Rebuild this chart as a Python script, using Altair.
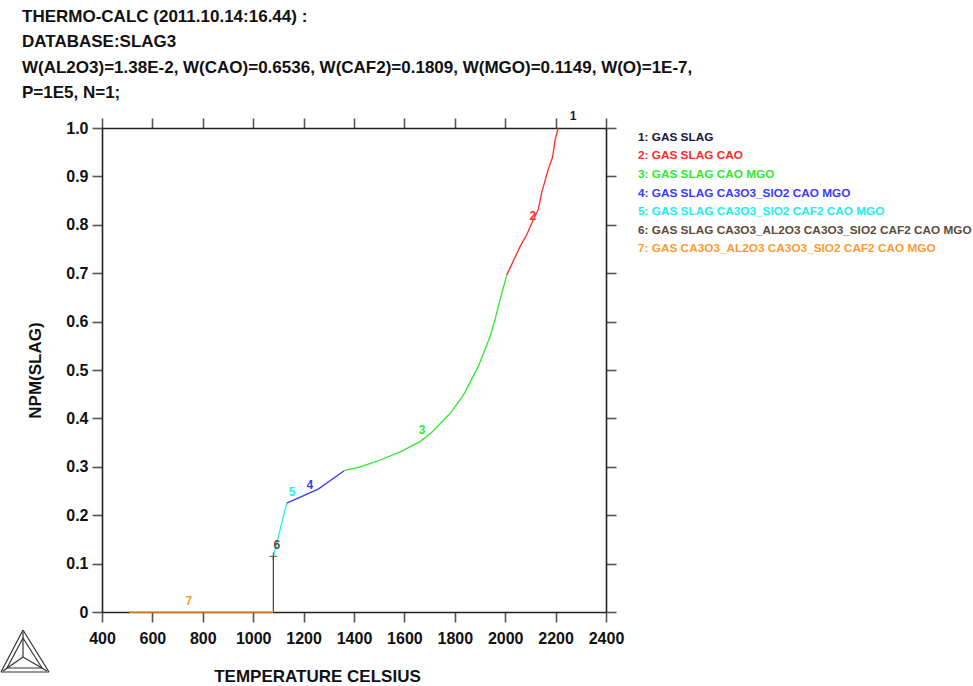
import altair as alt
import pandas as pd

# ---------------- data ----------------
title_lines = [
    "THERMO-CALC (2011.10.14:16.44) :",
    "DATABASE:SLAG3",
    "W(AL2O3)=1.38E-2, W(CAO)=0.6536, W(CAF2)=0.1809, W(MGO)=0.1149, W(O)=1E-7,",
    "P=1E5, N=1;",
]

series_ids = ["1", "2", "3", "4", "5", "6", "7"]
legend_labels = [
    "1: GAS SLAG",
    "2: GAS SLAG CAO",
    "3: GAS SLAG CAO MGO",
    "4: GAS SLAG CA3O3_SIO2 CAO MGO",
    "5: GAS SLAG CA3O3_SIO2 CAF2 CAO MGO",
    "6: GAS SLAG CA3O3_AL2O3 CA3O3_SIO2 CAF2 CAO MGO",
    "7: GAS CA3O3_AL2O3 CA3O3_SIO2 CAF2 CAO MGO",
]
series_colors = ["#16163e", "#ff2a2a", "#33e833", "#3a3aff", "#22eeee", "#5b4b3b", "#ff9a33"]

# curve segments (temperature in Celsius, NPM(SLAG))
s2_temp = [2006, 2059, 2085, 2111, 2131, 2144, 2171, 2188, 2198, 2210]
s2_npm = [0.696, 0.755, 0.779, 0.810, 0.831, 0.865, 0.915, 0.940, 0.975, 1.0]
s3_temp = [1361, 1424, 1490, 1583, 1662, 1708, 1781, 1834, 1893, 1940, 1960, 1977, 2006]
s3_npm = [0.292, 0.300, 0.311, 0.331, 0.352, 0.371, 0.410, 0.448, 0.507, 0.569, 0.605, 0.640, 0.696]
s4_temp = [1133, 1258, 1361]
s4_npm = [0.225, 0.254, 0.292]
s5_temp = [1080, 1133]
s5_npm = [0.115, 0.225]
s6_temp = [1080, 1080]
s6_npm = [0.0, 0.115]
s7_temp = [508, 1080]
s7_npm = [0.0, 0.0]

# curve number labels
label_temp = [2269, 2110, 1670, 1225, 1154, 1094, 745]
label_npm = [1.025, 0.818, 0.376, 0.262, 0.248, 0.138, 0.023]

# "+" marker at the end of segment 6
plus_temp = [1080]
plus_npm = [0.115]

x_ticks = list(range(400, 2401, 200))
y_ticks = [0, 0.1, 0.2, 0.3, 0.4, 0.5, 0.6, 0.7, 0.8, 0.9, 1.0]

# ---------------- tables ----------------
rows = []
for sid, tt, nn in [("2", s2_temp, s2_npm), ("3", s3_temp, s3_npm), ("4", s4_temp, s4_npm),
                    ("5", s5_temp, s5_npm), ("6", s6_temp, s6_npm), ("7", s7_temp, s7_npm)]:
    for i, (t, n) in enumerate(zip(tt, nn)):
        rows.append({"series": sid, "order": i, "T": t, "NPM": n})
curve = pd.DataFrame(rows)
labels = pd.DataFrame({"series": series_ids, "T": label_temp, "NPM": label_npm})
plus = pd.DataFrame({"T": plus_temp, "NPM": plus_npm})

W, H = 504, 484
FONT = "Liberation Sans, Arial, sans-serif"

xscale = alt.Scale(domain=[400, 2400], nice=False, zero=False)
yscale = alt.Scale(domain=[0, 1], nice=False, zero=False)
cscale = alt.Scale(domain=series_ids, range=series_colors)

axis_common = dict(
    grid=False, domainColor="#222222", domainWidth=1.6, tickColor="#555555",
    tickWidth=1.6, tickSize=10, labelFont=FONT, labelFontSize=16,
    labelFontWeight="bold", labelColor="#111111", titleFont=FONT,
    titleFontSize=17, titleFontWeight="bold", titleColor="#111111",
    labelOverlap=False, labelFlush=False,
)

lines = alt.Chart(curve).mark_line(strokeWidth=1.3, clip=False).encode(
    x=alt.X("T:Q", scale=xscale, axis=alt.Axis(
        orient="bottom", values=x_ticks, format="d", title="TEMPERATURE CELSIUS", labelPadding=8,
        titleX=215, titleY=64, titleAlign="center", titleBaseline="middle", **axis_common)),
    y=alt.Y("NPM:Q", scale=yscale, axis=alt.Axis(
        orient="left", values=y_ticks, title="NPM(SLAG)", labelPadding=4,
        labelExpr="datum.value == 0 ? '0' : format(datum.value, '.1f')",
        titleX=-67, titleY=242, titleAngle=270, titleAlign="center", titleBaseline="middle",
        **axis_common)),
    color=alt.Color("series:N", scale=cscale, legend=None),
    detail="series:N",
    order="order:Q",
)

frame = alt.Chart(curve).mark_line(opacity=0).encode(
    x=alt.X("T:Q", scale=xscale, axis=alt.Axis(orient="top", values=x_ticks, labels=False,
                                                 title=None, **axis_common)),
    y=alt.Y("NPM:Q", scale=yscale, axis=alt.Axis(orient="right", values=y_ticks, labels=False,
                                                   title=None, **axis_common)),
    detail="series:N",
)

num_labels = alt.Chart(labels).mark_text(
    font=FONT, fontSize=12, fontWeight="bold", align="center", baseline="middle", clip=False
).encode(
    x=alt.X("T:Q", scale=xscale, axis=None),
    y=alt.Y("NPM:Q", scale=yscale, axis=None),
    text="series:N",
    color=alt.Color("series:N", scale=cscale, legend=None),
)

plus_mark = alt.Chart(plus).mark_point(
    shape="M-1,0L1,0M0,-1L0,1", filled=False, size=60, stroke="#4a3c2e", strokeWidth=1.3
).encode(
    x=alt.X("T:Q", scale=xscale, axis=None),
    y=alt.Y("NPM:Q", scale=yscale, axis=None),
)

layers = [lines, frame, num_labels, plus_mark]

# title block (top-left)
for i, line in enumerate(title_lines):
    layers.append(
        alt.Chart(pd.DataFrame({"t": [line]})).mark_text(
            font=FONT, fontSize=17, fontWeight="bold", align="left", baseline="middle",
            color="#111111", clip=False
        ).encode(x=alt.value(-80), y=alt.value(-111 + 25.3 * i), text="t:N")
    )

# custom legend (right)
for i, (lab, col) in enumerate(zip(legend_labels, series_colors)):
    layers.append(
        alt.Chart(pd.DataFrame({"t": [lab]})).mark_text(
            font=FONT, fontSize=11.8, fontWeight="bold", align="left", baseline="middle",
            color=col, clip=False
        ).encode(x=alt.value(536), y=alt.value(8.7 + 18.6 * i), text="t:N")
    )

# Thermo-Calc logo (decoration, bottom-left)
logo_segments = [
    (-79, 502, -101, 544), (-79, 502, -53, 544), (-101, 544, -53, 544),
    (-79, 510, -95, 540), (-79, 510, -60, 540), (-95, 540, -60, 540),
    (-79, 504, -79, 529), (-79, 529, -99, 543), (-79, 529, -55, 543),
]
for (ax, ay, bx, by) in logo_segments:
    layers.append(
        alt.Chart(pd.DataFrame({"a": [0]})).mark_rule(color="#333333", strokeWidth=1.2).encode(
            x=alt.value(ax), y=alt.value(ay), x2=alt.value(bx), y2=alt.value(by)
        )
    )

chart = alt.layer(*layers).resolve_axis(x="independent", y="independent").properties(
    width=W, height=H,
    autosize=alt.AutoSizeParams(type="none"),
    padding={"left": 102, "top": 128, "right": 367, "bottom": 74},
    background="white",
).configure_view(stroke=None)

chart.save("out.html", embed_options={"renderer": "svg", "actions": False})
